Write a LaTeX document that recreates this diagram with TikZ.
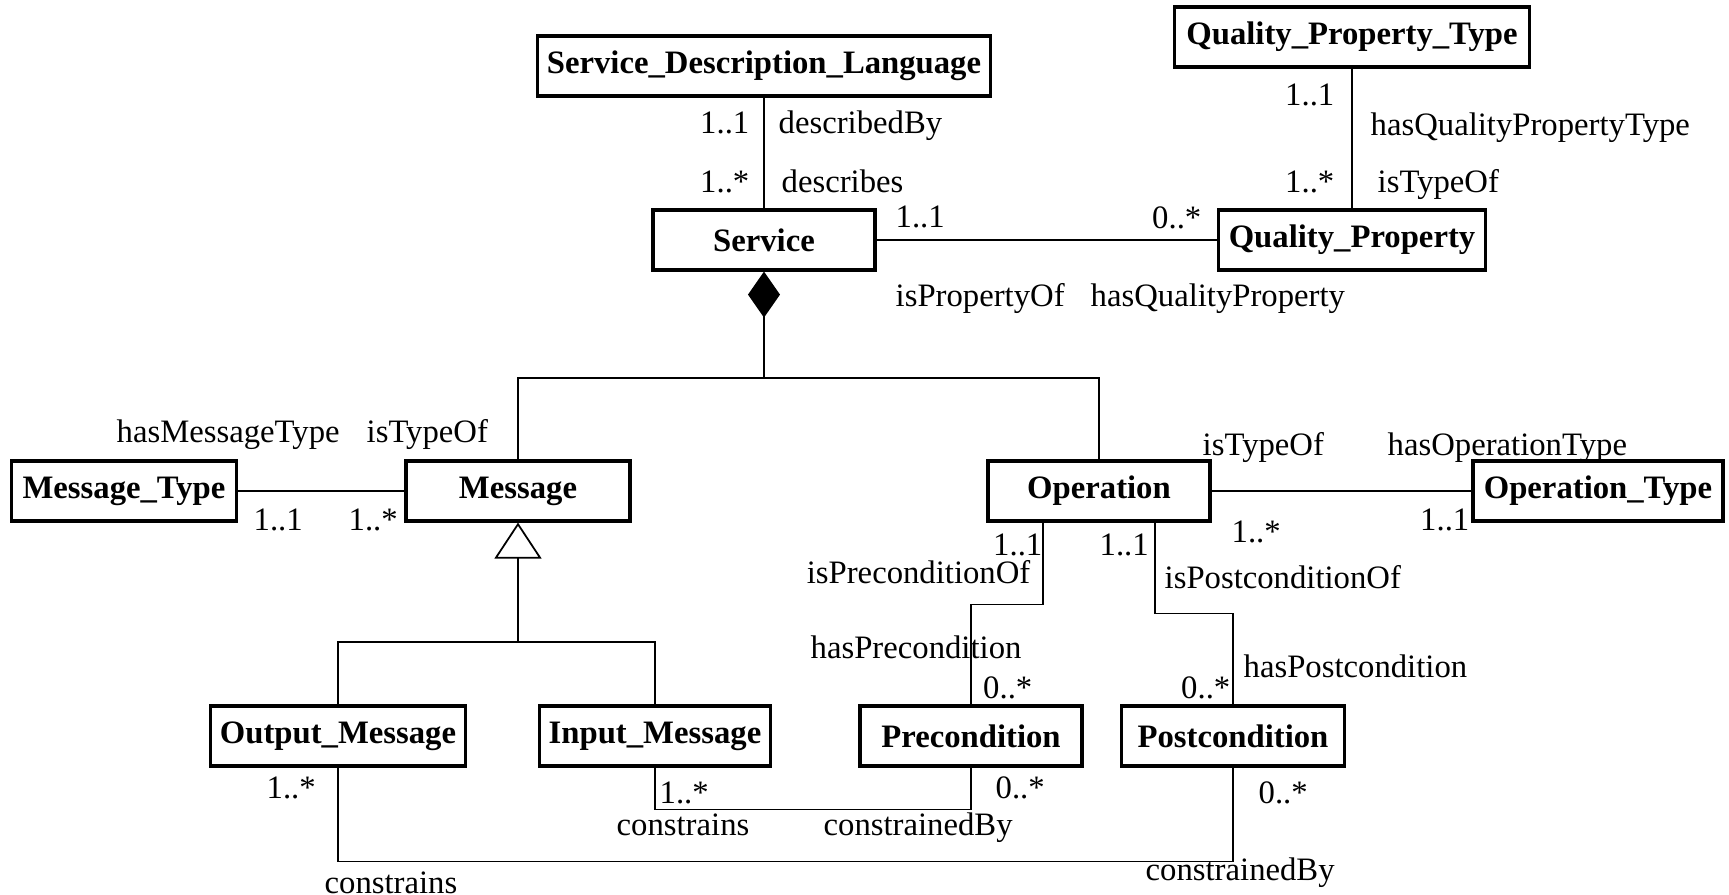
\documentclass[tikz,border=0pt]{standalone}
\usepackage{fontspec}
\setmainfont{Liberation Serif}
\usetikzlibrary{arrows.meta,calc}

\begin{document}
\begin{tikzpicture}[x=0.01cm,y=-0.01cm,
        cls/.style={draw,line width=0.9pt,minimum height=0.6cm,inner sep=0pt,font=\fontsize{9.3}{11}\selectfont\bfseries},
        lbl/.style={inner sep=0pt,text height=1.5ex,text depth=.25ex,font=\fontsize{9.3}{11}\selectfont},
        conn/.style={line width=0.5pt}]
    \useasboundingbox (0,0) rectangle (1729,895);
    % classes
    \node [cls,minimum width=4.52cm] (sdl) at (764,66) {Service\_Description\_Language};
    \node [cls,minimum width=2.22cm] (service) at (764,240) {Service};
    \node [cls,minimum width=3.55cm] (qptype) at (1352,37) {Quality\_Property\_Type};
    \node [cls,minimum width=2.67cm] (qprop) at (1352,240) {Quality\_Property};
    \node [cls,minimum width=2.25cm] (msgtype) at (124,491) {Message\_Type};
    \node [cls,minimum width=2.24cm] (message) at (518,491) {Message};
    \node [cls,minimum width=2.22cm] (operation) at (1099,491) {Operation};
    \node [cls,minimum width=2.50cm] (optype) at (1598,491) {Operation\_Type};
    \node [cls,minimum width=2.55cm] (outmsg) at (338,736) {Output\_Message};
    \node [cls,minimum width=2.31cm] (inmsg) at (655,736) {Input\_Message};
    \node [cls,minimum width=2.22cm] (precond) at (971,736) {Precondition};
    \node [cls,minimum width=2.23cm] (postcond) at (1233,736) {Postcondition};
    % associations
    \draw [conn] (sdl) -- (service);
    \draw [conn] (service) -- (qprop);
    \draw [conn] (qptype) -- (qprop);
    \draw [conn] (msgtype) -- (message);
    \draw [conn] (operation) -- (optype);
    % composition
    \coordinate (whole) at (764,378);
    \draw [conn,{Diamond[length=4.6mm,width=3.2mm]}-] (service.south) -- (whole);
    \draw [conn] (message.north) |- (whole) -| (operation.north);
    % generalization
    \coordinate (kind) at (518,642);
    \draw [conn,{Triangle[open,length=3.6mm,width=4.7mm]}-] (message.south) -- (kind);
    \draw [conn] (outmsg.north) |- (kind) -| (inmsg.north);
    % conditions
    \draw [conn] ($(operation.south)+(-56,0)$) -- ++(0,82) -| (precond.north);
    \draw [conn] ($(operation.south)+(56,0)$) -- ++(0,91) -| (postcond.north);
    \draw [conn] (inmsg.south) -- ++(0,42) -| (precond.south);
    \draw [conn] (outmsg.south) -- ++(0,94) -| (postcond.south);
    % roles and multiplicities
    \node [lbl,anchor=east] (sdlMult) at (750,123) {1..1};
    \node [lbl,anchor=west] (sdlRole) at (778,123) {describedBy};
    \node [lbl,anchor=east] (svcMult) at (750,182) {1..*};
    \node [lbl,anchor=west] (svcRole) at (781,182) {describes};
    \node [lbl,anchor=west] (svcQpMult) at (895,217) {1..1};
    \node [lbl,anchor=east] (qpSvcMult) at (1202,218) {0..*};
    \node [lbl,anchor=west] (svcQpRole) at (895,296) {isPropertyOf};
    \node [lbl,anchor=west] (qpSvcRole) at (1090,296) {hasQualityProperty};
    \node [lbl,anchor=east] (qptMult) at (1335,95) {1..1};
    \node [lbl,anchor=west] (qptRole) at (1370,125) {hasQualityPropertyType};
    \node [lbl,anchor=east] (qpMult) at (1335,182) {1..*};
    \node [lbl,anchor=west] (qpRole) at (1377,182) {isTypeOf};
    \node [lbl,anchor=west] (msgtRole) at (116,432) {hasMessageType};
    \node [lbl,anchor=west] (msgRole) at (366,432) {isTypeOf};
    \node [lbl,anchor=west] (msgtMult) at (253,520) {1..1};
    \node [lbl,anchor=west] (msgMult) at (348,520) {1..*};
    \node [lbl,anchor=west] (opRole) at (1202,445) {isTypeOf};
    \node [lbl,anchor=west] (optRole) at (1387,445) {hasOperationType};
    \node [lbl,anchor=west] (opMult) at (1231,532) {1..*};
    \node [lbl,anchor=east] (optMult) at (1470,520) {1..1};
    \node [lbl,anchor=east] (opPreMult) at (1043,545) {1..1};
    \node [lbl,anchor=east] (opPreRole) at (1031,573) {isPreconditionOf};
    \node [lbl,anchor=west] (opPostMult) at (1099,545) {1..1};
    \node [lbl,anchor=west] (opPostRole) at (1164,578) {isPostconditionOf};
    \node [lbl,anchor=west] (preOpRole) at (810,648) {hasPrecondition};
    \node [lbl,anchor=east] (preOpMult) at (1033,688) {0..*};
    \node [lbl,anchor=east] (postOpMult) at (1231,688) {0..*};
    \node [lbl,anchor=west] (postOpRole) at (1243,667) {hasPostcondition};
    \node [lbl,anchor=west] (outMult) at (266,788) {1..*};
    \node [lbl,anchor=west] (inMult) at (659,793) {1..*};
    \node [lbl,anchor=west] (preInMult) at (995,788) {0..*};
    \node [lbl,anchor=west] (inRole) at (616,825) {constrains};
    \node [lbl,anchor=west] (preInRole) at (823,825) {constrainedBy};
    \node [lbl,anchor=west] (postOutMult) at (1258,793) {0..*};
    \node [lbl,anchor=west] (outRole) at (324,883) {constrains};
    \node [lbl,anchor=west] (postOutRole) at (1145,870) {constrainedBy};
\end{tikzpicture}
\end{document}
